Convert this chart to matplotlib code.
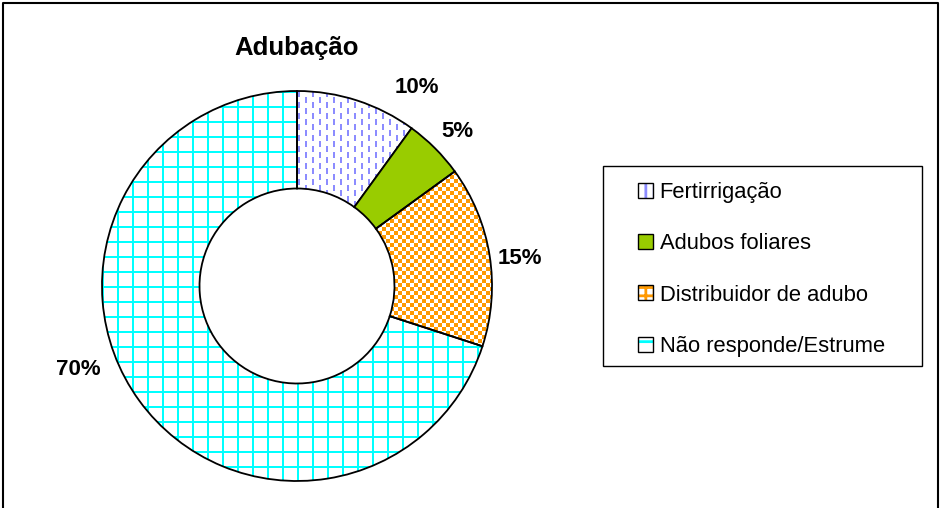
import numpy as np
import matplotlib
matplotlib.use("Agg")
import matplotlib.pyplot as plt
from matplotlib.patches import Patch, Rectangle
from matplotlib.legend_handler import HandlerTuple
from matplotlib.lines import Line2D

plt.rcParams['font.family'] = ['Liberation Sans', 'DejaVu Sans']
plt.rcParams['hatch.linewidth'] = 2.0

# data
title = "Adubação"
categories = ["Fertirrigação", "Adubos foliares", "Distribuidor de adubo", "Não responde/Estrume"]
values = [10, 5, 15, 70]
pct_labels = ["10%", "5%", "15%", "70%"]

# label placement (angle offset from wedge middle, radius)
label_shift = [-13, -1, -2, -15]
label_rad = [1.19, 1.14, 1.15, 1.20]

blue = '#8c8cff'
green = '#99cc00'
orange = '#ff9900'
cyan = '#00ffff'

W, H = 940, 508
cx, cy, R = 297, 286, 195

fig = plt.figure(figsize=(W / 100, H / 100), dpi=100)
ax = fig.add_axes([(cx - R) / W, (H - cy - R) / H, 2 * R / W, 2 * R / H])

wedges, _ = ax.pie(values, startangle=90, counterclock=False,
                   colors=['none', green, 'none', 'none'],
                   wedgeprops=dict(width=0.5, edgecolor='black', linewidth=1.3))
ax.axis('off')

# textures, one image pixel per screen pixel
n = 2 * R
ii, jj = np.indices((n, n))


def texture(mask, rgb):
    img = np.ones((n, n, 3))
    img[mask] = matplotlib.colors.to_rgb(rgb)
    return img


dash_mask = ((jj % 7) < 2) & (((ii + (jj // 7 % 2) * 5) % 11) < 6)
check_mask = ((ii // 4 + jj // 4) % 2) == 0
grid_mask = ((ii % 15) < 2) | ((jj % 15) < 2)

textures = {0: texture(dash_mask, blue), 2: texture(check_mask, orange), 3: texture(grid_mask, cyan)}
for k, img in textures.items():
    im = ax.imshow(img, extent=(-1, 1, -1, 1), interpolation='nearest', zorder=0.5)
    im.set_clip_path(wedges[k])
ax.set_xlim(-1, 1)
ax.set_ylim(-1, 1)

# percentage labels
for w, lab, sh, r in zip(wedges, pct_labels, label_shift, label_rad):
    mid = np.deg2rad((w.theta1 + w.theta2) / 2 + sh)
    ax.text(r * np.cos(mid), r * np.sin(mid), lab, ha='center', va='center',
            fontsize=16, fontweight='bold', clip_on=False)

fig.text(cx / W, 1 - 48 / H, title, ha='center', va='center', fontsize=18.5, fontweight='bold')

# legend
frame = Patch(facecolor='none', edgecolor='black', linewidth=1.0)
handles = [
    (Patch(facecolor='white', edgecolor=blue, hatch='||', linewidth=0), frame),
    (Patch(facecolor=green, edgecolor='none'), frame),
    (Patch(facecolor='white', edgecolor=orange, hatch='++', linewidth=0), frame),
    (Patch(facecolor='white', edgecolor=cyan, hatch='-', linewidth=0), frame),
]
leg = fig.legend(handles, categories, handler_map={tuple: HandlerTuple(ndivide=1, pad=0)},
                 loc='center left', bbox_to_anchor=(638 / W, 1 - 269.5 / H),
                 fontsize=15.8, frameon=False,
                 handlelength=0.68, handleheight=0.68, handletextpad=0.3,
                 labelspacing=1.38, borderpad=0, borderaxespad=0)

# legend box
fig.add_artist(Rectangle((603 / W, 1 - 366 / H), (922 - 603) / W, (366 - 166) / H,
                         facecolor='none', edgecolor='black', linewidth=1.0,
                         transform=fig.transFigure))

# outer border (bottom edge cut off)
fig.add_artist(Line2D([2.5 / W, 2.5 / W, 937.5 / W, 937.5 / W], [0, 1 - 2.5 / H, 1 - 2.5 / H, 0],
                      color='black', linewidth=1.5, transform=fig.transFigure))

fig.savefig("out.png", dpi=100)
